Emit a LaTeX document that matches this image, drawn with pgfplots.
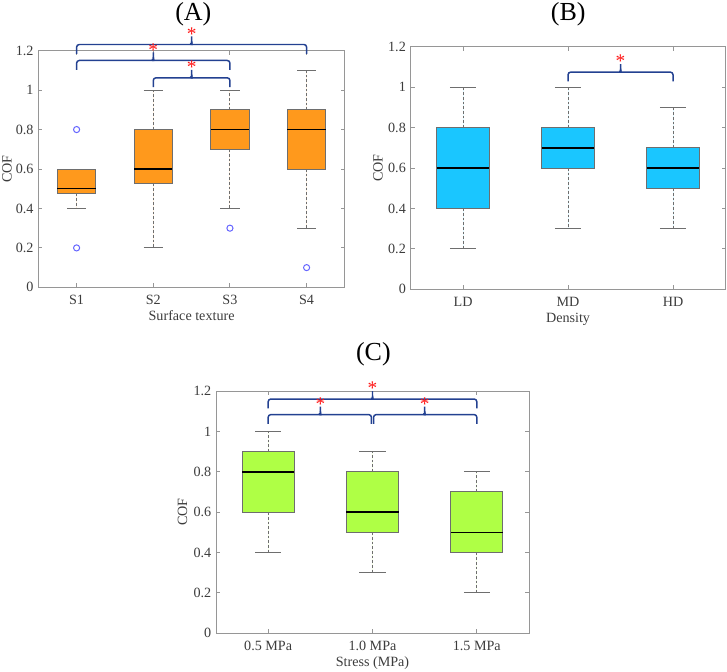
\documentclass[border=0pt]{standalone}
\usepackage{fontspec}
\setmainfont{Liberation Serif}
\usepackage{pgfplots}
\pgfplotsset{compat=1.18}
\usepgfplotslibrary{statistics}
\definecolor{orng}{RGB}{255,153,28}
\definecolor{cyanb}{RGB}{26,198,255}
\definecolor{grn}{RGB}{175,255,69}
\definecolor{boxgray}{RGB}{110,110,110}
\definecolor{axisgray}{RGB}{150,150,150}
\definecolor{labgray}{RGB}{60,60,60}
\definecolor{bracecol}{RGB}{35,65,145}
\definecolor{astred}{RGB}{255,20,20}
\definecolor{outl}{RGB}{100,100,255}
% #1 x1, #2 x2, #3 xmid, #4 y of end bottoms
\newcommand{\sigbrace}[4]{%
  \draw[bracecol, line width=1.1pt, rounded corners=2pt]
    (axis cs:#1,#4) -- ([yshift=7pt]axis cs:#1,#4) -- ([xshift=-2pt,yshift=7pt]axis cs:#3,#4)
    to[out=0,in=-90] ([yshift=9.5pt]axis cs:#3,#4) -- ([yshift=13pt]axis cs:#3,#4);
  \draw[bracecol, line width=1.1pt, rounded corners=2pt]
    (axis cs:#2,#4) -- ([yshift=7pt]axis cs:#2,#4) -- ([xshift=2pt,yshift=7pt]axis cs:#3,#4)
    to[out=180,in=-90] ([yshift=9.5pt]axis cs:#3,#4);
  \node[text=astred, anchor=base, inner sep=0pt, font=\fontsize{14.5}{14.5}\selectfont]
    at ([yshift=10.3pt]axis cs:#3,#4) {*};
}
\newcommand{\wcap}[3]{\addplot[boxgray, line width=0.75pt, solid, forget plot] coordinates {(#1,#3) (#2,#3)};}
\pgfplotsset{
  cofaxis/.style={
    scale only axis, clip=false,
    ymin=0, ymax=1.2, ytick={0,0.2,0.4,0.6,0.8,1,1.2},
    xtick={1,2,3,4},
    tick align=inside, xtick pos=both, ytick pos=both,
    xticklabel pos=lower, yticklabel pos=left,
    major tick length=3pt,
    axis line style={axisgray, line width=0.75pt},
    every tick/.style={axisgray, line width=0.75pt},
    tick label style={font=\fontsize{10.6}{12}\selectfont, text=labgray},
    label style={font=\fontsize{10.6}{12}\selectfont, text=labgray},
    /pgf/number format/assume math mode=true,
    xticklabel style={anchor=base, yshift=-13pt},
    xlabel style={at={(axis description cs:0.5,0)}, anchor=base, yshift=-24.5pt},
    ylabel={COF},
    boxplot/draw direction=y,
    boxplot/box extend=0.5,
    boxplot/whisker extend=0,
    boxplot/every box/.style={draw=boxgray, line width=0.75pt},
    boxplot/every median/.style={draw=black, line width=1.1pt},
    boxplot/every whisker/.style={draw=boxgray, line width=0.75pt, dash pattern=on 2pt off 1.5pt},
  },
  bx/.style={draw=boxgray, fill=#1, mark=o, mark size=2.3pt,
    mark options={draw=outl, fill=none, solid, line width=0.75pt}},
}
\begin{document}
\begin{tikzpicture}
\path[use as bounding box] (0,0) rectangle (545.25pt,-503.25pt);
% Titles
\node[anchor=base, font=\fontsize{19.5}{20}\selectfont] at (145pt,-15pt) {(A)};
\node[anchor=base, font=\fontsize{19.5}{20}\selectfont] at (426.2pt,-15pt) {(B)};
\node[anchor=base, font=\fontsize{19.5}{20}\selectfont] at (280pt,-270pt) {(C)};
% ---------- A ----------
\begin{axis}[cofaxis, at={(28.7pt,-215.5pt)}, anchor=south west,
  width=230pt, height=177.5pt, xmin=0.5, xmax=4.5,
  xticklabels={S1,S2,S3,S4}, xlabel={Surface texture},
  ylabel style={at={(axis description cs:-0.102,0.5)}, anchor=center}]
\addplot[bx=orng, boxplot prepared={draw position=1, lower whisker=0.4, lower quartile=0.475, median=0.5, upper quartile=0.6, upper whisker=0.6}]
  table[row sep=\\, y index=0] {y\\ 0.8\\ 0.2\\};
\addplot[bx=orng, boxplot prepared={draw position=2, lower whisker=0.2, lower quartile=0.525, median=0.6, upper quartile=0.8, upper whisker=1.0}]
  coordinates {};
\addplot[bx=orng, boxplot prepared={draw position=3, lower whisker=0.4, lower quartile=0.7, median=0.8, upper quartile=0.9, upper whisker=1.0}]
  table[row sep=\\, y index=0] {y\\ 0.3\\};
\addplot[bx=orng, boxplot prepared={draw position=4, lower whisker=0.3, lower quartile=0.6, median=0.8, upper quartile=0.9, upper whisker=1.1}]
  table[row sep=\\, y index=0] {y\\ 0.1\\};
\wcap{0.875}{1.125}{0.4}
\wcap{1.875}{2.125}{0.2}
\wcap{1.875}{2.125}{1.0}
\wcap{2.875}{3.125}{0.4}
\wcap{2.875}{3.125}{1.0}
\wcap{3.875}{4.125}{0.3}
\wcap{3.875}{4.125}{1.1}
\sigbrace{1}{4}{2.5}{1.184}
\sigbrace{1}{3}{2}{1.103}
\sigbrace{2}{3}{2.5}{1.015}
\end{axis}
% ---------- B ----------
\begin{axis}[cofaxis, at={(307.9pt,-217pt)}, anchor=south west,
  width=236.25pt, height=182pt, xmin=0.5, xmax=3.5, xtick={1,2,3},
  xticklabels={LD,MD,HD}, xlabel={Density},
  ylabel style={at={(axis description cs:-0.103,0.5)}, anchor=center}]
\addplot[bx=cyanb, boxplot prepared={draw position=1, lower whisker=0.2, lower quartile=0.4, median=0.6, upper quartile=0.8, upper whisker=1.0}]
  coordinates {};
\addplot[bx=cyanb, boxplot prepared={draw position=2, lower whisker=0.3, lower quartile=0.6, median=0.7, upper quartile=0.8, upper whisker=1.0}]
  coordinates {};
\addplot[bx=cyanb, boxplot prepared={draw position=3, lower whisker=0.3, lower quartile=0.5, median=0.6, upper quartile=0.7, upper whisker=0.9}]
  coordinates {};
\wcap{0.875}{1.125}{0.2}
\wcap{0.875}{1.125}{1.0}
\wcap{1.875}{2.125}{0.3}
\wcap{1.875}{2.125}{1.0}
\wcap{2.875}{3.125}{0.3}
\wcap{2.875}{3.125}{0.9}
\sigbrace{2}{3}{2.5}{1.028}
\end{axis}
% ---------- C ----------
\begin{axis}[cofaxis, at={(162pt,-475pt)}, anchor=south west,
  width=234.75pt, height=181.75pt, xmin=0.5, xmax=3.5, xtick={1,2,3},
  xticklabels={0.5 MPa,1.0 MPa,1.5 MPa}, xlabel={Stress (MPa)},
  ylabel style={at={(axis description cs:-0.107,0.5)}, anchor=center}]
\addplot[bx=grn, boxplot prepared={draw position=1, lower whisker=0.4, lower quartile=0.6, median=0.8, upper quartile=0.9, upper whisker=1.0}]
  coordinates {};
\addplot[bx=grn, boxplot prepared={draw position=2, lower whisker=0.3, lower quartile=0.5, median=0.6, upper quartile=0.8, upper whisker=0.9}]
  coordinates {};
\addplot[bx=grn, boxplot prepared={draw position=3, lower whisker=0.2, lower quartile=0.4, median=0.5, upper quartile=0.7, upper whisker=0.8}]
  coordinates {};
\wcap{0.875}{1.125}{0.4}
\wcap{0.875}{1.125}{1.0}
\wcap{1.875}{2.125}{0.3}
\wcap{1.875}{2.125}{0.9}
\wcap{2.875}{3.125}{0.2}
\wcap{2.875}{3.125}{0.8}
\sigbrace{1}{3}{2}{1.114}
\sigbrace{1}{1.99}{1.5}{1.037}
\sigbrace{2.01}{3}{2.5}{1.037}
\end{axis}
\end{tikzpicture}
\end{document}
